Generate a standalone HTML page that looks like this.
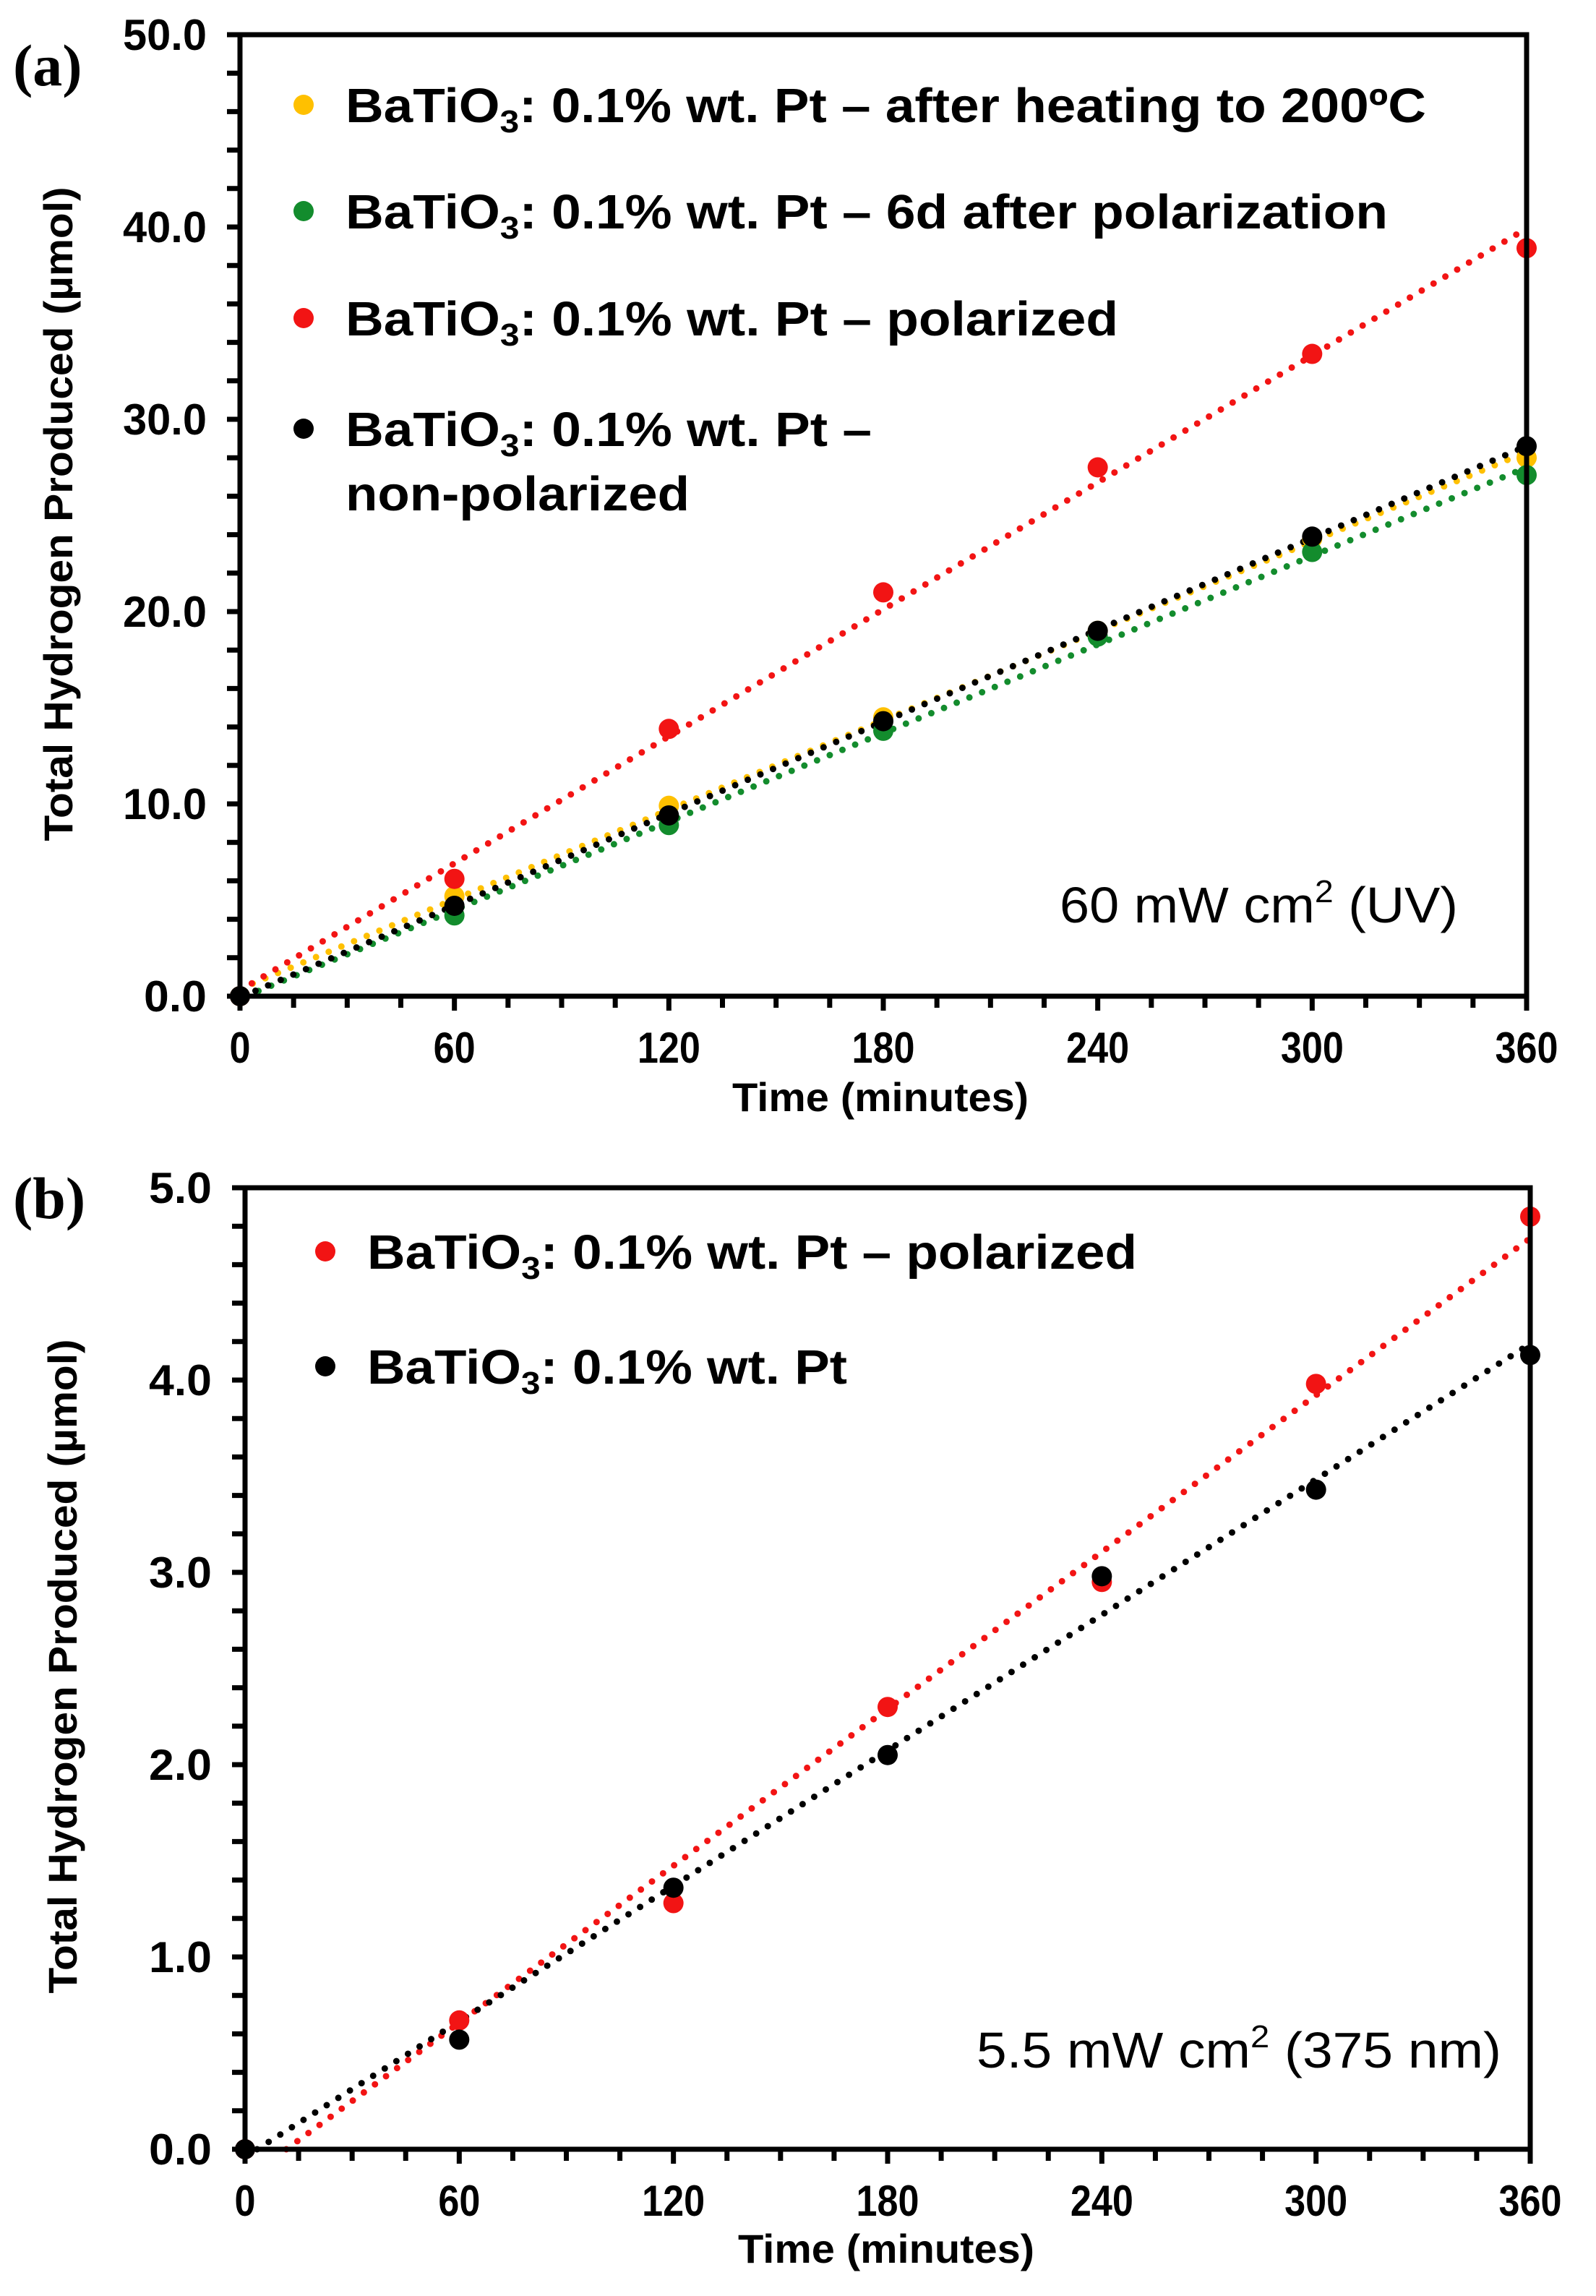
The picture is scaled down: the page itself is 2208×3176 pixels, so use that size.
<!DOCTYPE html>
<html><head><meta charset="utf-8">
<style>html,body{margin:0;padding:0;background:#fff;}svg{display:block;}</style>
</head><body>
<svg id="fig" xmlns="http://www.w3.org/2000/svg" width="2208" height="3176" viewBox="0 0 2208 3176">
<rect width="2208" height="3176" fill="#fff"/>
</svg>
<script>
// ---- Panel (a) data ----
const timesA = [0, 60, 120, 180, 240, 300, 360];
const heatedA = [0, 5.2, 9.9, 14.5, 19.0, 23.8, 28.0];
const sixDayA = [0, 4.2, 8.9, 13.8, 18.7, 23.1, 27.1];
const polarizedA = [0, 6.1, 13.9, 21.0, 27.5, 33.4, 38.9];
const nonPolA = [0, 4.7, 9.4, 14.3, 19.0, 23.9, 28.6];
const yTicksA = ["0.0","10.0","20.0","30.0","40.0","50.0"];
const xTickLabels = ["0","60","120","180","240","300","360"];
// ---- Panel (b) data ----
const timesB = [0, 60, 120, 180, 240, 300, 360];
const polarizedB = [0, 0.67, 1.28, 2.30, 2.95, 3.98, 4.85];
const plainB = [0, 0.57, 1.36, 2.05, 2.98, 3.43, 4.13];
const yTicksB = ["0.0","1.0","2.0","3.0","4.0","5.0"];

const NS = "http://www.w3.org/2000/svg";
const svg = document.getElementById('fig');
function mk(tag, attrs, parent){
  const e = document.createElementNS(NS, tag);
  for (const k in attrs) e.setAttribute(k, attrs[k]);
  (parent||svg).appendChild(e);
  return e;
}
function fit(xs, ys){
  const n = xs.length; let sx=0,sy=0,sxx=0,sxy=0;
  for(let i=0;i<n;i++){sx+=xs[i];sy+=ys[i];sxx+=xs[i]*xs[i];sxy+=xs[i]*ys[i];}
  const m=(n*sxy-sx*sy)/(n*sxx-sx*sx); return {m:m, b:(sy-m*sx)/n};
}
function lblW(s){ return s.length*29; }

function panel(cfg){
  const g = mk('g', {});
  
  
  const X = v => cfg.x0 + (v/360)*(cfg.x1-cfg.x0);
  const Y = v => cfg.y0 - (v/cfg.ymax)*(cfg.y0-cfg.y1);
  cfg.series.forEach(s=>{
    const f = fit(cfg.times, s.vals);
    let xs = 0, ys = f.b;
    if (ys < 0){ xs = -f.b/f.m; ys = 0; }
    const l = mk('line', {x1:X(xs), y1:Y(ys), x2:X(360), y2:Y(f.m*360+f.b), stroke:s.color, 'stroke-width':9, 'stroke-linecap':'round', 'stroke-dasharray':'0 19'}, g);
    
    
  });
  cfg.series.forEach(s=>{
    s.vals.forEach((v,i)=>{
      const c = mk('ellipse', {cx:X(cfg.times[i]), cy:Y(v), rx:14, ry:14, fill:s.color}, g);
      
      
    });
  });
  const fr = mk('rect', {x:cfg.x0, y:cfg.y1, width:cfg.x1-cfg.x0, height:cfg.y0-cfg.y1, fill:'none', stroke:'#000', 'stroke-width':7}, g);
  
  
  for(let t=0;t<=360;t+=15){
    const major = t%60===0;
    mk('line', {x1:X(t), y1:cfg.y0, x2:X(t), y2:cfg.y0+(major?20:16), stroke:'#000','stroke-width':7}, g);
  }
  xTickLabels.forEach((lab,i)=>{
    const t = mk('text', {x:X(i*60), y:cfg.y0+92, 'text-anchor':'middle', 'font-family':'Liberation Sans, sans-serif', 'font-weight':'bold', 'font-size':60, textLength:lblW(lab), lengthAdjust:'spacingAndGlyphs', fill:'#000'}, g);
    t.textContent = lab;
    
    
  });
  const n = cfg.ymax/cfg.minor;
  for(let i=0;i<=n;i++){
    const v = i*cfg.minor;
    mk('line', {x1:cfg.x0-18, y1:Y(v), x2:cfg.x0, y2:Y(v), stroke:'#000','stroke-width':7}, g);
  }
  cfg.yTicks.forEach((lab,i)=>{
    const t = mk('text', {x:cfg.x0-46, y:Y(i*cfg.ymax/5)+21, 'text-anchor':'end', 'font-family':'Liberation Sans, sans-serif', 'font-weight':'bold', 'font-size':60, textLength:lblW(lab), lengthAdjust:'spacingAndGlyphs', fill:'#000'}, g);
    t.textContent = lab;
    
    
  });
  const xt = mk('text', {x:cfg.xTitleX, y:cfg.xTitleY, 'text-anchor':'middle', 'font-family':'Liberation Sans, sans-serif', 'font-weight':'bold', 'font-size':56, textLength:410, lengthAdjust:'spacingAndGlyphs'}, g);
  xt.textContent = 'Time (minutes)';
  
  
  const yt = mk('text', {x:0, y:0, transform:'translate('+cfg.yTitleX+','+cfg.yTitleY+') rotate(-90)', 'text-anchor':'middle', 'font-family':'Liberation Sans, sans-serif', 'font-weight':'bold', 'font-size':56, textLength:905, lengthAdjust:'spacingAndGlyphs'}, g);
  yt.textContent = 'Total Hydrogen Produced (µmol)';
  
  
  const pl = mk('text', {x:18, y:cfg.labelY, 'font-family':'Liberation Serif, serif', 'font-weight':'bold', 'font-size':82}, g);
  pl.textContent = cfg.label;
  
  
  const an = mk('text', {x:cfg.annX, y:cfg.annY, 'font-family':'Liberation Sans, sans-serif', 'font-size':70, textLength:cfg.annW, lengthAdjust:'spacingAndGlyphs'}, g);
  an.innerHTML = cfg.ann;
  
  
  cfg.legend.forEach(L=>{
    const d = mk('ellipse', {cx:L.dx, cy:L.y, rx:14, ry:14, fill:L.color}, g);
    
    
    L.lines.forEach((ln,j)=>{
      const t = mk('text', {x:L.tx, y:L.y+24+j*89, 'font-family':'Liberation Sans, sans-serif', 'font-weight':'bold', 'font-size':67, textLength:ln.w, lengthAdjust:'spacingAndGlyphs'}, g);
      t.innerHTML = ln.html;
      
      
    });
  });
}
const B3 = 'BaTiO<tspan font-size="44" dy="14">3</tspan><tspan dy="-14">: 0.1% wt. Pt';

panel({name:'panel-a', x0:332, x1:2112, y0:1378, y1:48, ymax:50, minor:2, times:timesA, yTicks:yTicksA,
  series:[{key:'heated',color:'#ffc000',vals:heatedA},{key:'six-day',color:'#138c2d',vals:sixDayA},{key:'polarized',color:'#f21414',vals:polarizedA},{key:'non-polarized',color:'#000',vals:nonPolA}],
  xTitleX:1218, xTitleY:1537, yTitleX:100, yTitleY:711, label:'(a)', labelY:118,
  ann:'60 mW cm<tspan font-size="44" dy="-28">2</tspan><tspan dy="28"> (UV)</tspan>', annX:1466, annY:1276, annW:551,
  legend:[
    {color:'#ffc000', dx:420, tx:478, y:145, lines:[{w:1495, html:B3+' – after heating to 200ºC</tspan>'}]},
    {color:'#138c2d', dx:420, tx:478, y:292, lines:[{w:1442, html:B3+' – 6d after polarization</tspan>'}]},
    {color:'#f21414', dx:420, tx:478, y:440, lines:[{w:1069, html:B3+' – polarized</tspan>'}]},
    {color:'#000', dx:420, tx:478, y:593, lines:[{w:728, html:B3+' –</tspan>'},{w:476, html:'non-polarized'}]}
  ]});

panel({name:'panel-b', x0:339, x1:2117, y0:2973, y1:1643, ymax:5, minor:0.2, times:timesB, yTicks:yTicksB,
  series:[{key:'polarized',color:'#f21414',vals:polarizedB},{key:'non-polarized',color:'#000',vals:plainB}],
  xTitleX:1226, xTitleY:3130, yTitleX:106, yTitleY:2305, label:'(b)', labelY:1685,
  ann:'5.5 mW cm<tspan font-size="44" dy="-28">2</tspan><tspan dy="28"> (375 nm)</tspan>', annX:1351, annY:2860, annW:726,
  legend:[
    {color:'#f21414', dx:450, tx:508, y:1731, lines:[{w:1065, html:B3+' – polarized</tspan>'}]},
    {color:'#000', dx:450, tx:508, y:1890, lines:[{w:664, html:B3+'</tspan>'}]}
  ]});
</script>
</body></html>
